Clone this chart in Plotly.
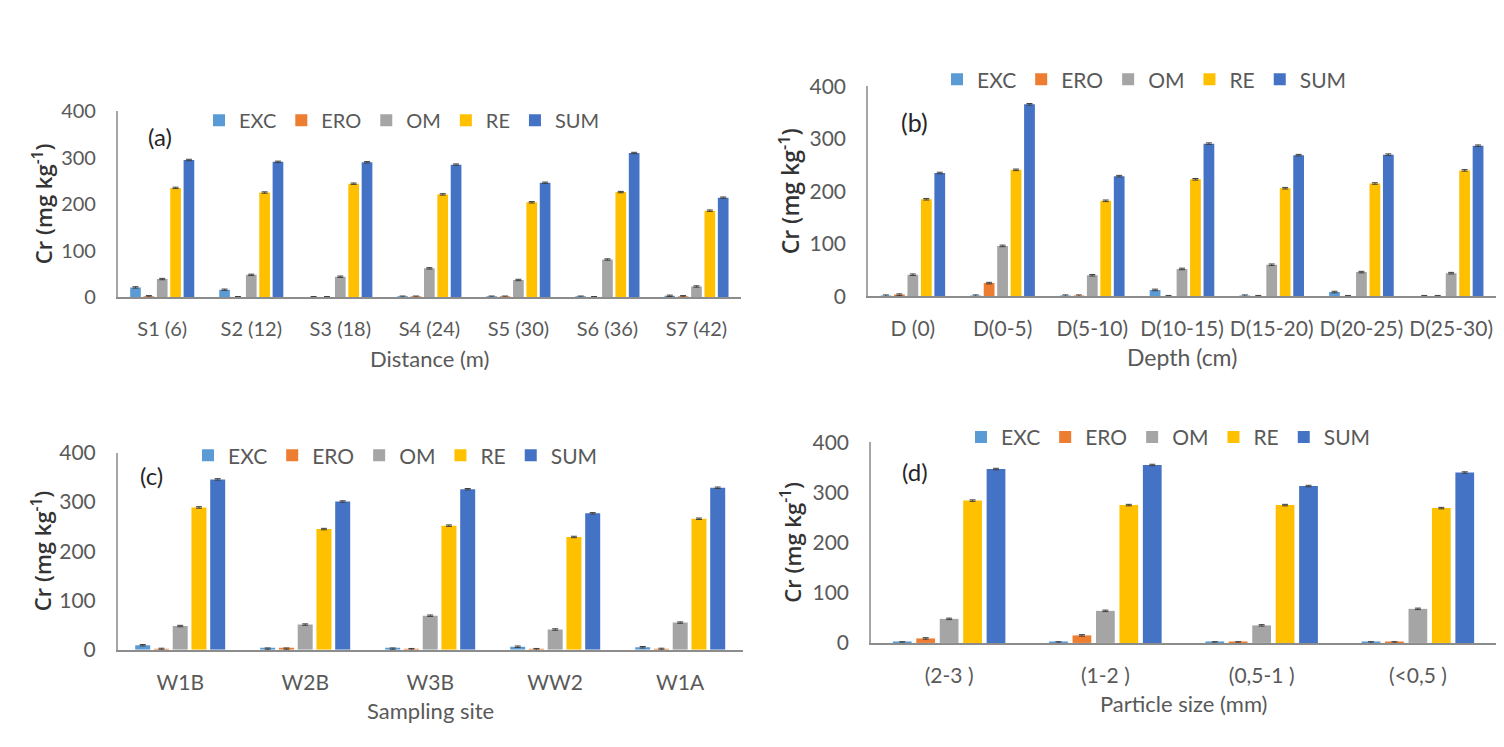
import plotly.graph_objects as go

W, H = 1504, 747

# ---------------- data ----------------
series_names = ["EXC", "ERO", "OM", "RE", "SUM"]
series_colors = ["#5B9BD5", "#ED7D31", "#A5A5A5", "#FFC000", "#4472C4"]

cats_a = ["S1 (6)", "S2 (12)", "S3 (18)", "S4 (24)", "S5 (30)", "S6 (36)", "S7 (42)"]
a_exc = [21, 16, 0, 1, 1, 1, 3]
a_ero = [2, 0, 0, 1, 1, 0, 2]
a_om = [39, 48, 44, 62, 37, 81, 23]
a_re = [235, 225, 244, 221, 204, 226, 186]
a_sum = [295, 291, 290, 285, 246, 310, 214]

cats_b = ["D (0)", "D(0-5)", "D(5-10)", "D(10-15)", "D(15-20)", "D(20-25)", "D(25-30)"]
b_exc = [1, 1, 1, 12, 1, 8, 0]
b_ero = [3, 25, 1, 0, 0, 0, 0]
b_om = [41, 96, 40, 52, 60, 46, 44]
b_re = [185, 241, 182, 223, 206, 215, 240]
b_sum = [235, 366, 229, 291, 269, 270, 287]

cats_c = ["W1B", "W2B", "W3B", "WW2", "W1A"]
c_exc = [9, 2, 2, 6, 5]
c_ero = [1.5, 2, 1, 1, 1.5]
c_om = [48, 51, 69, 41, 55]
c_re = [289, 245, 252, 229, 266]
c_sum = [346, 301, 326, 277, 329]

cats_d = ["(2-3 )", "(1-2 )", "(0,5-1 )", "(<0,5 )"]
d_exc = [1, 1, 1, 1]
d_ero = [9, 15, 1, 1]
d_om = [48, 64, 35, 68]
d_re = [284, 275, 275, 269]
d_sum = [347, 355, 313, 340]

y_ticks = [0, 100, 200, 300, 400]
err_value = 1.5

panels = [
    dict(key="a", cats=cats_a, data=[a_exc, a_ero, a_om, a_re, a_sum], xtitle="Distance (m)",
         px=(117.7, 741), py=(100.5, 293), fs=20, tfs=22,
         leg=(199, 110), lab=(160, 127), ytx=42),
    dict(key="b", cats=cats_b, data=[b_exc, b_ero, b_om, b_re, b_sum], xtitle="Depth (cm)",
         px=(868, 1496), py=(75, 292), fs=21, tfs=23,
         leg=(937, 68), lab=(914, 112), ytx=790),
    dict(key="c", cats=cats_c, data=[c_exc, c_ero, c_om, c_re, c_sum], xtitle="Sampling site",
         px=(117.7, 742.7), py=(454, 657.7), fs=21, tfs=22,
         leg=(188, 457), lab=(151, 477), ytx=41),
    dict(key="d", cats=cats_d, data=[d_exc, d_ero, d_om, d_re, d_sum], xtitle="Particle size (mm)",
         px=(871, 1496), py=(443.3, 650.7), fs=21, tfs=22,
         leg=(961, 438), lab=(915, 473), ytx=791),
]

FONT = "Lato"
TICK_COLOR = "#595959"

fig = go.Figure()
layout = dict(
    width=W, height=H, margin=dict(l=0, r=0, t=0, b=0),
    paper_bgcolor="white", plot_bgcolor="white",
    barmode="group", bargap=0.25, bargroupgap=0.2,
    font=dict(family=FONT, color=TICK_COLOR),
    annotations=[],
)

for i, p in enumerate(panels):
    n = "" if i == 0 else str(i + 1)
    xa, ya = "x" + n, "y" + n
    legname = "legend" + n
    for s, (name, col) in enumerate(zip(series_names, series_colors)):
        fig.add_trace(go.Bar(
            x=p["cats"], y=p["data"][s], name=name, marker=dict(color=col, line=dict(width=0)),
            error_y=dict(type="constant", value=err_value, color="#404040", thickness=1, width=3),
            xaxis=xa, yaxis=ya, legend=legname,
        ))
    x0, x1 = p["px"]
    yt, yb = p["py"]
    layout["xaxis" + n] = dict(
        domain=[x0 / W, x1 / W], anchor=ya, type="category",
        showline=True, linecolor="#8C8C8C", linewidth=1.5, showgrid=False, zeroline=False,
        ticks="", ticklabelstandoff=13, tickfont=dict(size=p["fs"], color=TICK_COLOR, family=FONT),
        fixedrange=True,
    )
    layout["yaxis" + n] = dict(
        domain=[1 - yb / H, 1 - yt / H], anchor=xa, range=[0, 400], tickvals=y_ticks,
        showline=True, linecolor="#A6A6A6", linewidth=1.5, showgrid=False, zeroline=False,
        ticks="", ticklabelstandoff=16, tickfont=dict(size=p["fs"], color=TICK_COLOR, family=FONT),
        fixedrange=True,
    )
    layout[legname] = dict(
        orientation="h", x=p["leg"][0] / W, y=1 - p["leg"][1] / H, xanchor="left", yanchor="middle",
        font=dict(size=p["fs"], color=TICK_COLOR, family=FONT), bgcolor="rgba(0,0,0,0)",
        traceorder="normal", itemwidth=30,
    )
    # x axis title
    layout["annotations"].append(dict(
        text=p["xtitle"], x=(x0 + x1) / 2 / W, y=1 - (yb + 63) / H, xref="paper", yref="paper",
        showarrow=False, xanchor="center", yanchor="middle",
        font=dict(size=p["tfs"], color=TICK_COLOR, family=FONT),
    ))
    # y axis title
    layout["annotations"].append(dict(
        text="Cr (mg kg<sup>-1</sup>)", x=p["ytx"] / W, y=1 - (yt + yb) / 2 / H, xref="paper", yref="paper",
        showarrow=False, xanchor="center", yanchor="middle", textangle=-90,
        font=dict(size=p["tfs"], color="#333333", family="Open Sans", weight=600),
    ))
    # panel label
    layout["annotations"].append(dict(
        text="(" + p["key"] + ")", x=p["lab"][0] / W, y=1 - p["lab"][1] / H, xref="paper", yref="paper",
        showarrow=False, xanchor="center", yanchor="middle",
        font=dict(size=p["tfs"] + 2, color="#262626", family=FONT),
    ))

fig.update_layout(**layout)
fig.write_html("out.html")
